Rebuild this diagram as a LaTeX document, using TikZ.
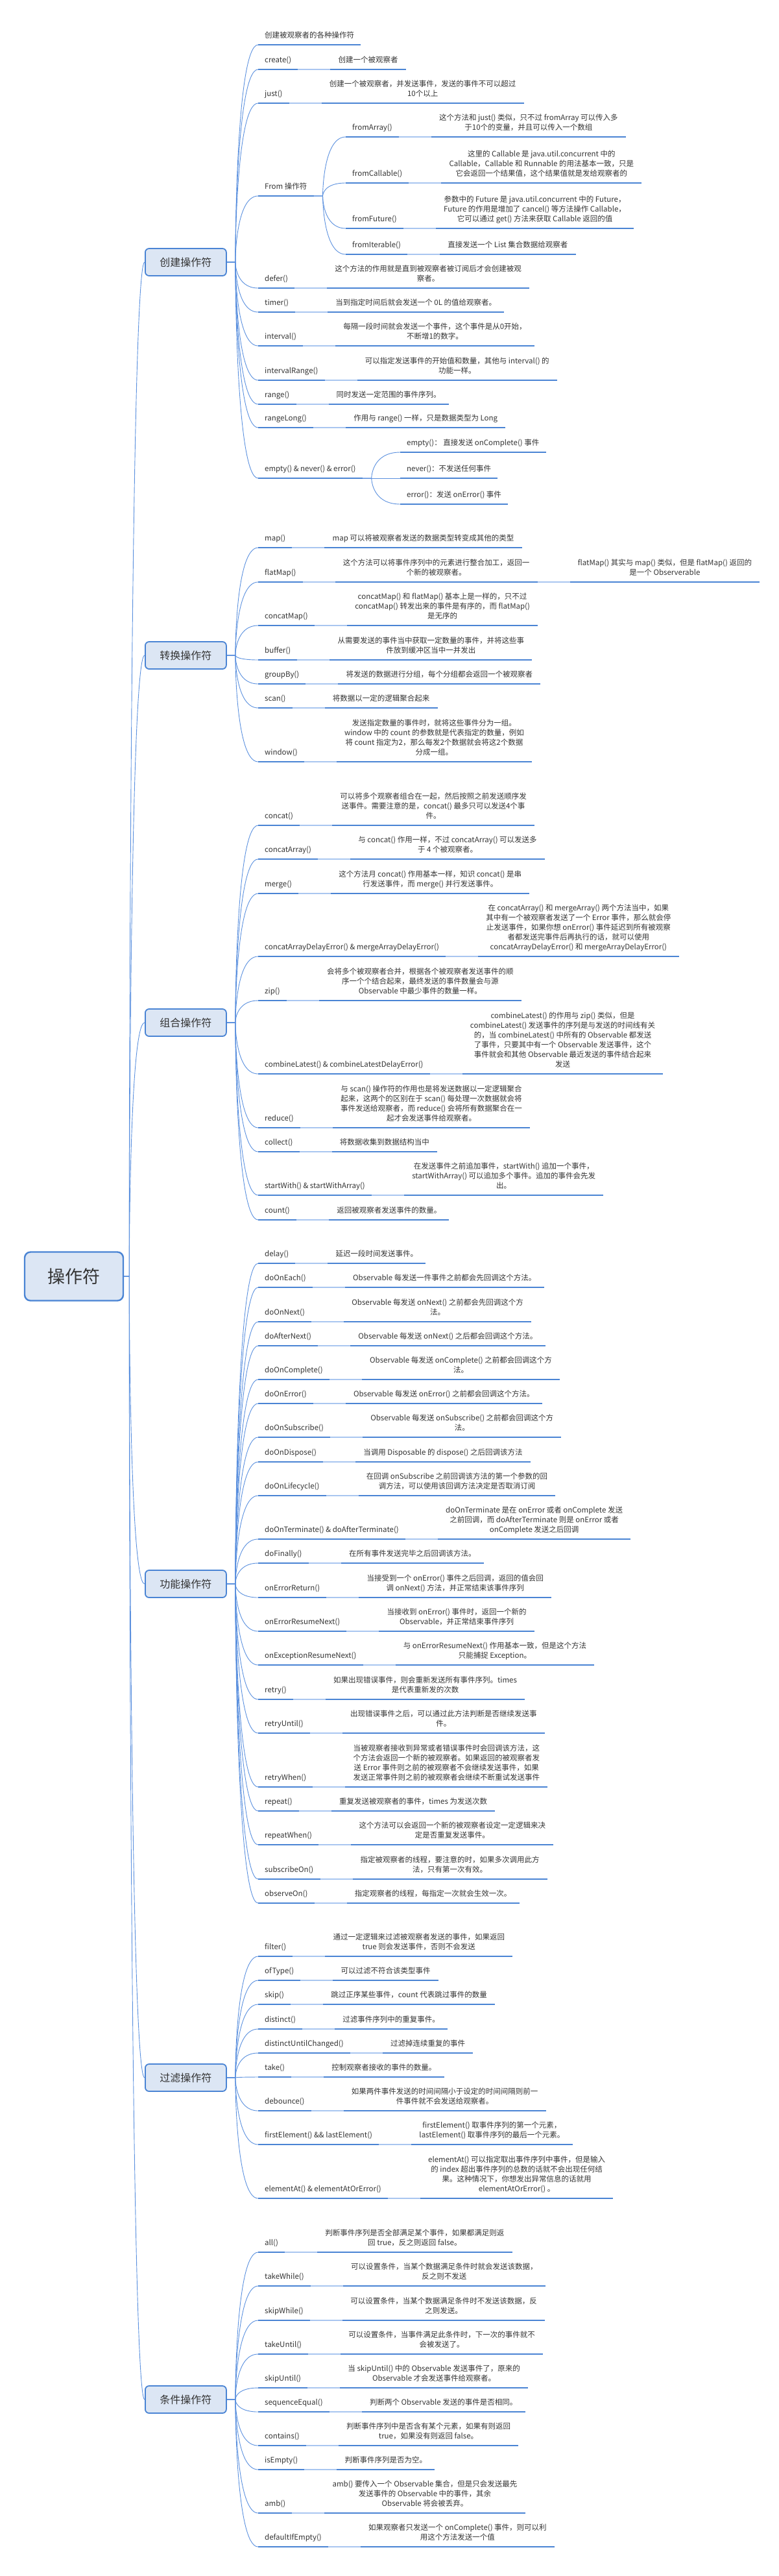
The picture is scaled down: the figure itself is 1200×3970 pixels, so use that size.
\documentclass[tikz,border=0pt]{standalone}
\usepackage{fontspec}
\setmainfont{Noto Sans CJK SC}
\usepackage{tikz}
\usetikzlibrary{positioning}
\usetikzlibrary{calc}

\definecolor{ink}{HTML}{333333}
\definecolor{topicblue}{HTML}{4A84D4}
\definecolor{curveblue}{HTML}{5B90DE}
\definecolor{linkblue}{HTML}{A9C6F0}
\definecolor{boxfill}{HTML}{DCE6F4}

\begin{document}
\begin{tikzpicture}[
        x=1pt, y=-1pt,
        base/.style={font=\fontsize{11.5}{15}\selectfont, text=ink, align=center,
            inner ysep=7pt, text depth=3pt},
        lbl/.style={base, anchor=south west, inner xsep=10pt},
        dsc/.style={base, inner xsep=12pt},
        uline/.style={topicblue, line width=2.4pt},
        link/.style={linkblue, line width=1.4pt},
        branch/.style={curveblue, line width=0.9pt},
        cat/.style={draw=topicblue, fill=boxfill, line width=1.8pt, rounded corners=6pt,
            anchor=west, minimum width=125pt, minimum height=42pt,
            font=\fontsize{16}{18}\selectfont, text=ink},
        root/.style={draw=topicblue, fill=boxfill, line width=2.4pt, rounded corners=9pt,
            minimum width=152pt, minimum height=75pt,
            font=\fontsize{27}{30}\selectfont, text=ink}
    ]
    \useasboundingbox (0,0) rectangle (1200,3970);

    \node[root] (root) at (114,1967) {操作符};

    % categories
    \foreach \nm/\yy/\lb in {cre/404/创建操作符, tra/1010/转换操作符, com/1576/组合操作符,
            fun/2441/功能操作符, fil/3202/过滤操作符, cnd/3698/条件操作符}{
        \node[cat] (\nm) at (223,\yy) {\lb};
        \draw[branch] (root.east) -- ++(8,0) .. controls +(0,0) and ($(root.east |- \nm.west)+(8,0)$) .. (\nm.west);
    }

    % topics without a description
    \node[lbl] (c0) at (398,69) {创建被观察者的各种操作符};
    \node[lbl] (c3) at (398,302) {From 操作符};
    \node[lbl] (c10) at (398,737) {empty() \& never() \& error()};
    \foreach \nm in {c0,c3,c10}{
        \draw[uline] (\nm.south west) -- (\nm.south east);
        \draw[branch] (cre.east) -- ++(13,0) .. controls +(0,0) and ($(cre.east |- \nm.south west)+(13,0)$) .. (\nm.south west);
    }

    % operator / description pairs
    \foreach \pa/\nm/\yy/\lb/\ds in {
        cre/c1/107/{create()}/{创建一个被观察者},
        cre/c2/159/{just()}/{创建一个被观察者，并发送事件，发送的事件不可以超过\\10个以上},
        cre/c4/444/{defer()}/{这个方法的作用就是直到被观察者被订阅后才会创建被观\\察者。},
        cre/c5/481/{timer()}/{当到指定时间后就会发送一个 0L 的值给观察者。},
        cre/c6/533/{interval()}/{每隔一段时间就会发送一个事件，这个事件是从0开始，\\不断增1的数字。},
        cre/c7/586/{intervalRange()}/{可以指定发送事件的开始值和数量，其他与 interval() 的\\功能一样。},
        cre/c8/623/{range()}/{同时发送一定范围的事件序列。},
        cre/c9/659/{rangeLong()}/{作用与 range() 一样，只是数据类型为 Long},
        tra/t1/844/{map()}/{map 可以将被观察者发送的数据类型转变成其他的类型},
        tra/t2/897/{flatMap()}/{这个方法可以将事件序列中的元素进行整合加工，返回一\\个新的被观察者。},
        tra/t3/964/{concatMap()}/{concatMap() 和 flatMap() 基本上是一样的，只不过\\concatMap() 转发出来的事件是有序的，而 flatMap()\\是无序的},
        tra/t4/1017/{buffer()}/{从需要发送的事件当中获取一定数量的事件，并将这些事\\件放到缓冲区当中一并发出},
        tra/t5/1054/{groupBy()}/{将发送的数据进行分组，每个分组都会返回一个被观察者},
        tra/t6/1091/{scan()}/{将数据以一定的逻辑聚合起来},
        tra/t7/1174/{window()}/{发送指定数量的事件时，就将这些事件分为一组。\\window 中的 count 的参数就是代表指定的数量，例如\\将 count 指定为2，那么每发2个数据就会将这2个数据\\分成一组。},
        com/z1/1272/{concat()}/{可以将多个观察者组合在一起，然后按照之前发送顺序发\\送事件。需要注意的是，concat() 最多只可以发送4个事\\件。},
        com/z2/1324/{concatArray()}/{与 concat() 作用一样，不过 concatArray() 可以发送多\\于 4 个被观察者。},
        com/z3/1377/{merge()}/{这个方法月 concat() 作用基本一样，知识 concat() 是串\\行发送事件，而 merge() 并行发送事件。},
        com/z4/1474/{concatArrayDelayError() \& mergeArrayDelayError()}/{在 concatArray() 和 mergeArray() 两个方法当中，如果\\其中有一个被观察者发送了一个 Error 事件，那么就会停\\止发送事件，如果你想 onError() 事件延迟到所有被观察\\者都发送完事件后再执行的话，就可以使用\\concatArrayDelayError() 和 mergeArrayDelayError()},
        com/z5/1542/{zip()}/{会将多个被观察者合并，根据各个被观察者发送事件的顺\\序一个个结合起来，最终发送的事件数量会与源\\Observable 中最少事件的数量一样。},
        com/z6/1655/{combineLatest() \& combineLatestDelayError()}/{combineLatest() 的作用与 zip() 类似，但是\\combineLatest() 发送事件的序列是与发送的时间线有关\\的，当 combineLatest() 中所有的 Observable 都发送\\了事件，只要其中有一个 Observable 发送事件，这个\\事件就会和其他 Observable 最近发送的事件结合起来\\发送},
        com/z7/1738/{reduce()}/{与 scan() 操作符的作用也是将发送数据以一定逻辑聚合\\起来，这两个的区别在于 scan() 每处理一次数据就会将\\事件发送给观察者，而 reduce() 会将所有数据聚合在一\\起才会发送事件给观察者。},
        com/z8/1775/{collect()}/{将数据收集到数据结构当中},
        com/z9/1842/{startWith() \& startWithArray()}/{在发送事件之前追加事件，startWith() 追加一个事件，\\startWithArray() 可以追加多个事件。追加的事件会先发\\出。},
        com/z10/1880/{count()}/{返回被观察者发送事件的数量。},
        fun/g1/1947/{delay()}/{延迟一段时间发送事件。},
        fun/g2/1984/{doOnEach()}/{Observable 每发送一件事件之前都会先回调这个方法。},
        fun/g3/2037/{doOnNext()}/{Observable 每发送 onNext() 之前都会先回调这个方\\法。},
        fun/g4/2074/{doAfterNext()}/{Observable 每发送 onNext() 之后都会回调这个方法。},
        fun/g5/2126/{doOnComplete()}/{Observable 每发送 onComplete() 之前都会回调这个方\\法。},
        fun/g6/2163/{doOnError()}/{Observable 每发送 onError() 之前都会回调这个方法。},
        fun/g7/2215/{doOnSubscribe()}/{Observable 每发送 onSubscribe() 之前都会回调这个方\\法。},
        fun/g8/2253/{doOnDispose()}/{当调用 Disposable 的 dispose() 之后回调该方法},
        fun/g9/2305/{doOnLifecycle()}/{在回调 onSubscribe 之前回调该方法的第一个参数的回\\调方法，可以使用该回调方法决定是否取消订阅},
        fun/g10/2372/{doOnTerminate() \& doAfterTerminate()}/{doOnTerminate 是在 onError 或者 onComplete 发送\\之前回调，而 doAfterTerminate 则是 onError 或者\\onComplete 发送之后回调},
        fun/g11/2409/{doFinally()}/{在所有事件发送完毕之后回调该方法。},
        fun/g12/2462/{onErrorReturn()}/{当接受到一个 onError() 事件之后回调，返回的值会回\\调 onNext() 方法，并正常结束该事件序列},
        fun/g13/2514/{onErrorResumeNext()}/{当接收到 onError() 事件时，返回一个新的\\Observable，并正常结束事件序列},
        fun/g14/2566/{onExceptionResumeNext()}/{与 onErrorResumeNext() 作用基本一致，但是这个方法\\只能捕捉 Exception。},
        fun/g15/2619/{retry()}/{如果出现错误事件，则会重新发送所有事件序列。times\\是代表重新发的次数},
        fun/g16/2671/{retryUntil()}/{出现错误事件之后，可以通过此方法判断是否继续发送事\\件。},
        fun/g17/2754/{retryWhen()}/{当被观察者接收到异常或者错误事件时会回调该方法，这\\个方法会返回一个新的被观察者。如果返回的被观察者发\\送 Error 事件则之前的被观察者不会继续发送事件，如果\\发送正常事件则之前的被观察者会继续不断重试发送事件},
        fun/g18/2791/{repeat()}/{重复发送被观察者的事件，times 为发送次数},
        fun/g19/2843/{repeatWhen()}/{这个方法可以会返回一个新的被观察者设定一定逻辑来决\\定是否重复发送事件。},
        fun/g20/2896/{subscribeOn()}/{指定被观察者的线程，要注意的时，如果多次调用此方\\法，只有第一次有效。},
        fun/g21/2933/{observeOn()}/{指定观察者的线程，每指定一次就会生效一次。},
        fil/f1/3015/{filter()}/{通过一定逻辑来过滤被观察者发送的事件，如果返回\\true 则会发送事件，否则不会发送},
        fil/f2/3052/{ofType()}/{可以过滤不符合该类型事件},
        fil/f3/3089/{skip()}/{跳过正序某些事件，count 代表跳过事件的数量},
        fil/f4/3127/{distinct()}/{过滤事件序列中的重复事件。},
        fil/f5/3164/{distinctUntilChanged()}/{过滤掉连续重复的事件},
        fil/f6/3201/{take()}/{控制观察者接收的事件的数量。},
        fil/f7/3253/{debounce()}/{如果两件事件发送的时间间隔小于设定的时间间隔则前一\\件事件就不会发送给观察者。},
        fil/f8/3305/{firstElement() \&\& lastElement()}/{firstElement() 取事件序列的第一个元素，\\lastElement() 取事件序列的最后一个元素。},
        fil/f9/3388/{elementAt() \& elementAtOrError()}/{elementAt() 可以指定取出事件序列中事件，但是输入\\的 index 超出事件序列的总数的话就不会出现任何结\\果。这种情况下，你想发出异常信息的话就用\\elementAtOrError() 。},
        cnd/k1/3471/{all()}/{判断事件序列是否全部满足某个事件，如果都满足则返\\回 true，反之则返回 false。},
        cnd/k2/3523/{takeWhile()}/{可以设置条件，当某个数据满足条件时就会发送该数据，\\反之则不发送},
        cnd/k3/3576/{skipWhile()}/{可以设置条件，当某个数据满足条件时不发送该数据，反\\之则发送。},
        cnd/k4/3628/{takeUntil()}/{可以设置条件，当事件满足此条件时，下一次的事件就不\\会被发送了。},
        cnd/k5/3680/{skipUntil()}/{当 skipUntil() 中的 Observable 发送事件了，原来的\\Observable 才会发送事件给观察者。},
        cnd/k6/3717/{sequenceEqual()}/{判断两个 Observable 发送的事件是否相同。},
        cnd/k7/3769/{contains()}/{判断事件序列中是否含有某个元素，如果有则返回\\true，如果没有则返回 false。},
        cnd/k8/3806/{isEmpty()}/{判断事件序列是否为空。},
        cnd/k9/3873/{amb()}/{amb() 要传入一个 Observable 集合，但是只会发送最先\\发送事件的 Observable 中的事件，其余\\Observable 将会被丢弃。},
        cnd/k10/3925/{defaultIfEmpty()}/{如果观察者只发送一个 onComplete() 事件，则可以利\\用这个方法发送一个值}}{
        \node[lbl] (\nm) at (398,\yy) {\lb};
        \node[dsc, right=50pt of \nm.south east, anchor=south west] (\nm-d) {\ds};
        \draw[link] (\nm.south east) -- (\nm-d.south west);
        \draw[uline] (\nm.south west) -- (\nm.south east);
        \draw[uline] (\nm-d.south west) -- (\nm-d.south east);
        \draw[branch] (\pa.east) -- ++(13,0) .. controls +(0,0) and ($(\pa.east |- \nm.south west)+(13,0)$) .. (\nm.south west);
    }

    % flatMap() has a second note
    \node[dsc, right=50pt of t2-d.south east, anchor=south west] (t2-e) {flatMap() 其实与 map() 类似，但是 flatMap() 返回的\\是一个 Observerable};
    \draw[link] (t2-d.south east) -- (t2-e.south west);
    \draw[uline] (t2-e.south west) -- (t2-e.south east);

    % from... operators
    \foreach \nm/\yy/\lb/\ds in {
        c3a/211/{fromArray()}/{这个方法和 just() 类似，只不过 fromArray 可以传入多\\于10个的变量，并且可以传入一个数组},
        c3b/282/{fromCallable()}/{这里的 Callable 是 java.util.concurrent 中的\\Callable，Callable 和 Runnable 的用法基本一致，只是\\它会返回一个结果值，这个结果值就是发给观察者的},
        c3c/352/{fromFuture()}/{参数中的 Future 是 java.util.concurrent 中的 Future，\\Future 的作用是增加了 cancel() 等方法操作 Callable，\\它可以通过 get() 方法来获取 Callable 返回的值},
        c3d/392/{fromIterable()}/{直接发送一个 List 集合数据给观察者}}{
        \node[lbl] (\nm) at (533,\yy) {\lb};
        \node[dsc, right=50pt of \nm.south east, anchor=south west] (\nm-d) {\ds};
        \draw[link] (\nm.south east) -- (\nm-d.south west);
        \draw[uline] (\nm.south west) -- (\nm.south east);
        \draw[uline] (\nm-d.south west) -- (\nm-d.south east);
        \draw[branch] (c3.south east) -- ++(14,0) .. controls +(0,0) and ($(c3.south east |- \nm.south west)+(14,0)$) .. (\nm.south west);
    }

    % empty / never / error
    \foreach \nm/\yy/\lb in {c10a/697/{empty()： 直接发送 onComplete() 事件},
            c10b/737/{never()：不发送任何事件}, c10c/777/{error()：发送 onError() 事件}}{
        \node[lbl] (\nm) at (617,\yy) {\lb};
        \draw[uline] (\nm.south west) -- (\nm.south east);
        \draw[branch] (c10.south east) -- ++(14,0) .. controls +(0,0) and ($(c10.south east |- \nm.south west)+(14,0)$) .. (\nm.south west);
    }

\end{tikzpicture}
\end{document}
